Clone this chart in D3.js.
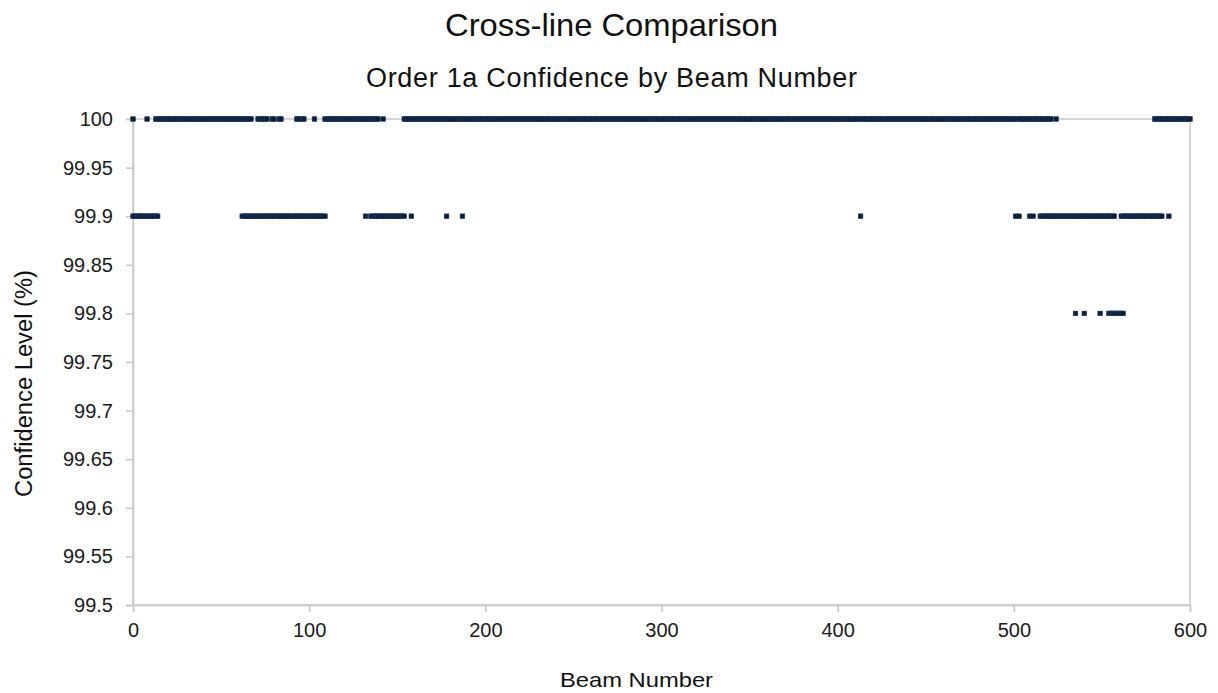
<!DOCTYPE html>
<html><head><meta charset="utf-8">
<script src="https://cdn.jsdelivr.net/npm/d3@7"></script>
<style>body{margin:0;background:#fff;} text{font-family:"Liberation Sans",Arial,sans-serif;}</style>
</head><body>
<svg id="c" width="1218" height="693"></svg>
<script>
// Runs of consecutive beam numbers [first, last] at each confidence level
const runs100 = [[0,0],[8,8],[13,67],[71,76],[79,80],[83,84],[93,94],[96,97],[103,103],[109,139],[142,142],[154,412],[414,501],[503,521],[524,524],[580,600]];
const runs999 = [[0,14],[62,109],[132,132],[135,154],[158,158],[178,178],[187,187],[413,413],[501,501],[503,503],[509,509],[511,511],[515,557],[561,584],[588,588]];
const runs998 = [[535,535],[540,540],[549,549],[554,562]];
const levels = [100, 99.9, 99.8];
const xTicks = [0,100,200,300,400,500,600];
const yTicks = [99.5,99.55,99.6,99.65,99.7,99.75,99.8,99.85,99.9,99.95,100];

const points = [];
[runs100, runs999, runs998].forEach((runs,i)=>{
  runs.forEach(([a,b])=>{ d3.range(a,b+1).forEach(beam=>points.push({beam, conf: levels[i]})); });
});

const svg = d3.select("#c");
const L=133,R=1190,T=119,B=605;
const x = d3.scaleLinear().domain([0,600]).range([L,R]);
const y = d3.scaleLinear().domain([99.5,100]).range([B,T]);

svg.append("rect").attr("x",L).attr("y",T).attr("width",R-L).attr("height",B-T)
  .attr("fill","none").attr("stroke","#c8c8c8").attr("stroke-width",1.5);

const yAxis = svg.append("g").attr("transform",`translate(${L},0)`)
  .call(d3.axisLeft(y).tickValues(yTicks).tickSize(7).tickPadding(13).tickFormat(d=>String(+d.toFixed(2))));
const xAxis = svg.append("g").attr("transform",`translate(0,${B})`)
  .call(d3.axisBottom(x).tickValues(xTicks).tickSize(7).tickPadding(11).tickFormat(d3.format("d")));
[yAxis,xAxis].forEach(g=>{
  g.select(".domain").attr("stroke","#c8c8c8").attr("stroke-width",1.5);
  g.selectAll(".tick line").attr("stroke","#c8c8c8").attr("stroke-width",1.5);
  g.selectAll(".tick text").attr("fill","#1a1a1a").style("font-size","20px").style("font-family","Liberation Sans, Arial, sans-serif");
});

const s=4.6;
svg.append("g").selectAll("rect").data(points).join("rect")
  .attr("x",d=>x(d.beam)-s/2).attr("y",d=>y(d.conf)-s/2)
  .attr("width",s).attr("height",s)
  .attr("fill","#0c1d36").attr("stroke","#1c3a66").attr("stroke-width",0.6);

svg.append("text").attr("x",611.5).attr("y",36).attr("text-anchor","middle")
  .style("font-size","32px").attr("fill","#111")
  .attr("textLength",333).attr("lengthAdjust","spacingAndGlyphs").text("Cross-line Comparison");
svg.append("text").attr("x",611.5).attr("y",87).attr("text-anchor","middle")
  .style("font-size","27px").attr("fill","#111")
  .attr("textLength",491).attr("lengthAdjust","spacing").text("Order 1a Confidence by Beam Number");
svg.append("text").attr("x",636.5).attr("y",687).attr("text-anchor","middle")
  .style("font-size","21px").attr("fill","#111")
  .attr("textLength",153).attr("lengthAdjust","spacingAndGlyphs").text("Beam Number");
svg.append("text").attr("transform","translate(32,383.5) rotate(-90)").attr("text-anchor","middle")
  .style("font-size","23px").attr("fill","#111")
  .attr("textLength",227).attr("lengthAdjust","spacingAndGlyphs").text("Confidence Level (%)");
</script>
</body></html>
